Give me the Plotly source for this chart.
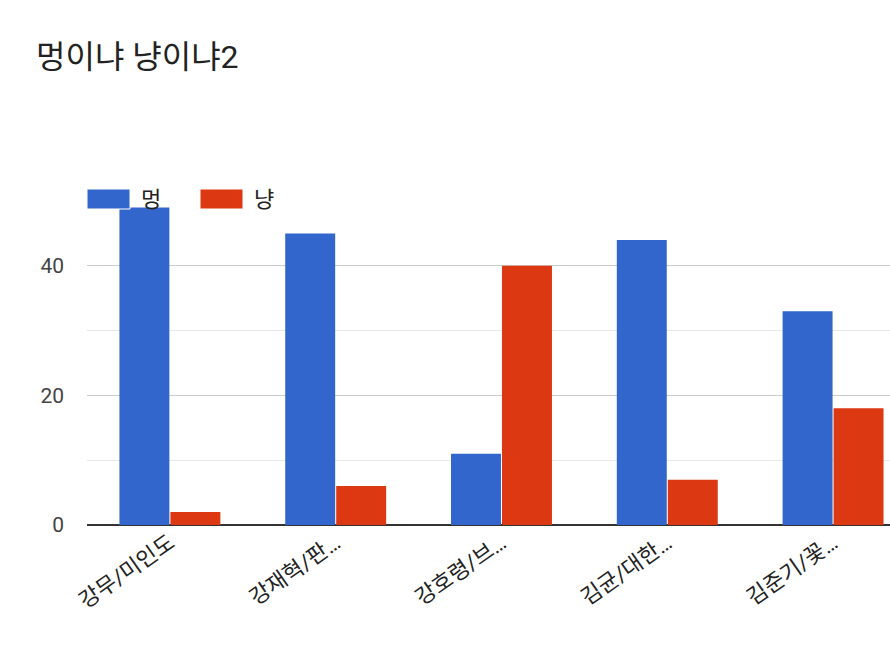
import plotly.graph_objects as go

categories = ["강무/미인도", "강재혁/판…", "강호령/브…", "김균/대한…", "김준기/꽃…"]
series_names = ["멍", "냥"]
meong = [49, 45, 11, 44, 33]
nyang = [2, 6, 40, 7, 18]
colors = ["#3366CC", "#DC3912"]
title_text = "멍이냐 냥이냐2"

FONT = "Roboto, 'Noto Sans CJK KR', sans-serif"

W, H = 890, 650
ml, mr, mt, mb = 87, 0, 201, 125
pw = W - ml - mr
ph = H - mt - mb

fig = go.Figure()
for name, vals, col in zip(series_names, [meong, nyang], colors):
    fig.add_trace(go.Bar(x=categories, y=vals, name=name, marker_color=col,
                         marker_line_width=0, showlegend=False))

# custom legend (wide swatches like the reference)
shapes = []
annotations = []
leg_x = [0, 113]
for i, (name, col) in enumerate(zip(series_names, colors)):
    x0 = leg_x[i]
    shapes.append(dict(type="rect", xref="paper", yref="paper",
                       x0=x0 / pw, x1=(x0 + 43) / pw,
                       y0=(525 - 209) / ph, y1=(525 - 189) / ph,
                       fillcolor=col, line=dict(color="white", width=1), layer="above"))
    annotations.append(dict(xref="paper", yref="paper", x=(x0 + 52) / pw,
                            y=(525 - 199) / ph, xanchor="left", yanchor="middle",
                            text=name, showarrow=False,
                            font=dict(family=FONT, size=22, color="#222222")))

fig.update_layout(
    width=W, height=H,
    margin=dict(l=ml, r=mr, t=mt, b=mb),
    paper_bgcolor="white", plot_bgcolor="white",
    barmode="group", bargap=0.385, bargroupgap=0.02,
    title=dict(text=title_text, x=36 / W, xref="container", xanchor="left",
               y=1 - 57 / H, yref="container", yanchor="middle",
               font=dict(family=FONT, size=32, color="#222222")),
    shapes=shapes, annotations=annotations,
    font=dict(family=FONT),
)
fig.update_xaxes(range=[-0.5, 4.5 - 26 / 166], showgrid=False, ticks="",
                 tickangle=-35, tickfont=dict(size=22, color="#222222"),
                 showline=False, fixedrange=True)
fig.update_yaxes(range=[0, 50], tickvals=[0, 20, 40], showgrid=True,
                 gridcolor="#CCCCCC", gridwidth=1,
                 minor=dict(tickvals=[10, 30, 50], showgrid=True, gridcolor="#E8E8E8", gridwidth=1),
                 zeroline=True, zerolinecolor="#333333", zerolinewidth=2,
                 ticks="", ticklabelstandoff=22,
                 tickfont=dict(size=21, color="#444444"), fixedrange=True)

fig.write_html("out.html")
